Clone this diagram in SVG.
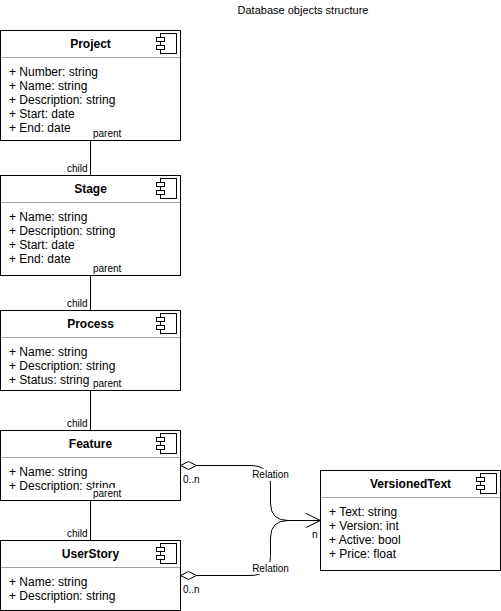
<svg xmlns="http://www.w3.org/2000/svg" width="501" height="611" viewBox="0 0 501 611">
<style>
text{font-family:"Liberation Sans",Arial,sans-serif;font-size:12px;fill:#000}
.t{font-weight:bold;text-anchor:middle}
.l{font-size:10px}
.m{text-anchor:middle}
.b{fill:#fff;stroke:#000;stroke-width:1}
.s{stroke:#a0a0a0;stroke-width:1;fill:none}
.i{fill:none;stroke:#000;stroke-width:1}
.c{fill:none;stroke:#000;stroke-width:1}
.w{fill:#fff;stroke:none}
</style>
<defs>
<g id="ic"><rect class="b" x="4" y="0" width="16" height="20"/><rect class="b" x="0" y="4" width="8" height="4"/><rect class="b" x="0" y="12" width="8" height="4"/></g>
</defs>
<text x="303" y="14" class="m" style="font-size:11px">Database objects structure</text>
<g id="connectors">
<path class="c" d="M90.500 140.500V175.500M90.500 275.500V310.500M90.500 390.500V430.500M90.500 500.500V540.500"/>
<path class="c" d="M196 465.500H250Q270.500 465.500 270.500 485.500V503Q270.500 520.500 288 520.500H320.500"/>
<path class="c" d="M196 575.500H250Q270.500 575.500 270.500 555.500V538Q270.500 520.500 288 520.500H320.500"/>
<path class="c" d="M306 513.500L320.500 520.500L306 527.500" stroke-width="1"/>
<path class="b" d="M180.500 465.500L188.500 461.500L196.500 465.500L188.500 469.500Z"/>
<path class="b" d="M180.500 575.500L188.500 571.500L196.500 575.500L188.500 579.500Z"/>
</g>
<g id="project">
<rect class="b" x="0.500" y="30.500" width="180" height="110"/><path class="s" d="M1 57.500H180"/>
<use href="#ic" x="156.500" y="33.500"/>
<text x="90.500" y="48" class="t">Project</text>
<text x="9" y="76">+ Number: string</text><text x="9" y="90">+ Name: string</text><text x="9" y="104">+ Description: string</text><text x="9" y="118">+ Start: date</text><text x="9" y="132">+ End: date</text>
</g>
<g id="stage">
<rect class="b" x="0.500" y="175.500" width="180" height="100"/><path class="s" d="M1 202.500H180"/>
<use href="#ic" x="156.500" y="178.500"/>
<text x="90.500" y="193" class="t">Stage</text>
<text x="9" y="221">+ Name: string</text><text x="9" y="235">+ Description: string</text><text x="9" y="249">+ Start: date</text><text x="9" y="263">+ End: date</text>
</g>
<g id="process">
<rect class="b" x="0.500" y="310.500" width="180" height="80"/><path class="s" d="M1 337.500H180"/>
<use href="#ic" x="156.500" y="313.500"/>
<text x="90.500" y="328" class="t">Process</text>
<text x="9" y="356">+ Name: string</text><text x="9" y="370">+ Description: string</text><text x="9" y="384">+ Status: string</text>
</g>
<g id="feature">
<rect class="b" x="0.500" y="430.500" width="180" height="70"/><path class="s" d="M1 457.500H180"/>
<use href="#ic" x="156.500" y="433.500"/>
<text x="90.500" y="448" class="t">Feature</text>
<text x="9" y="476">+ Name: string</text><text x="9" y="490">+ Description: string</text>
</g>
<g id="userstory">
<rect class="b" x="0.500" y="540.500" width="180" height="70"/><path class="s" d="M1 567.500H180"/>
<use href="#ic" x="156.500" y="543.500"/>
<text x="90.500" y="558" class="t">UserStory</text>
<text x="9" y="586">+ Name: string</text><text x="9" y="600">+ Description: string</text>
</g>
<g id="versionedtext">
<rect class="b" x="320.500" y="470.500" width="180" height="100"/><path class="s" d="M321 497.500H500"/>
<use href="#ic" x="476.500" y="473.500"/>
<text x="410.500" y="488" class="t">VersionedText</text>
<text x="329" y="516">+ Text: string</text><text x="329" y="530">+ Version: int</text><text x="329" y="544">+ Active: bool</text><text x="329" y="558">+ Price: float</text>
</g>
<g id="labels">
<text x="93" y="137" class="l">parent</text>
<text x="67" y="172" class="l">child</text>
<text x="93" y="272" class="l">parent</text>
<text x="67" y="307" class="l">child</text>
<text x="93" y="387" class="l">parent</text>
<text x="67" y="427" class="l">child</text>
<rect class="w" x="93" y="488" width="29" height="10"/>
<text x="93" y="497" class="l">parent</text>
<text x="67" y="537" class="l">child</text>
<text x="183" y="483" class="l">0..n</text>
<text x="183" y="593" class="l">0..n</text>
<text x="312" y="538" class="l">n</text>
<rect class="w" x="250" y="469" width="41" height="12"/>
<text x="270.500" y="478" class="l m">Relation</text>
<rect class="w" x="250" y="562" width="41" height="12"/>
<text x="270.500" y="572" class="l m">Relation</text>
</g>
</svg>
